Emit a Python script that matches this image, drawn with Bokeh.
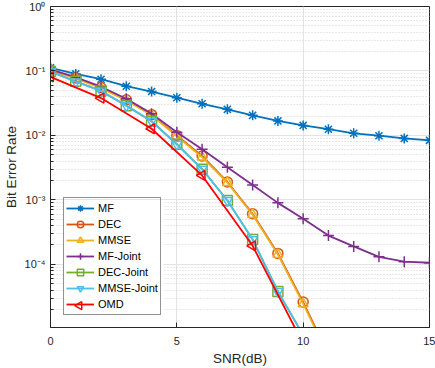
import math
from bokeh.plotting import figure
from bokeh.models import FixedTicker, Legend, LegendItem, Range1d
from bokeh.embed import file_html
from bokeh.resources import INLINE

# ---- data ----
snr = list(range(0, 16))
snr_omd = [0, 2, 4, 6, 8, 10]

ber_mf = [0.112, 0.090, 0.0745, 0.058, 0.048, 0.0385, 0.031, 0.0254,
          0.0205, 0.0168, 0.0143, 0.0125, 0.0108, 0.0099, 0.0090, 0.0084]
ber_dec = [0.104, 0.078, 0.0553, 0.0358, 0.021, 0.0100, 0.0048, 0.0019,
           0.00061, 0.000148, 2.6e-5, 4.0e-6]
ber_mmse = [0.102, 0.077, 0.054, 0.035, 0.0205, 0.0097, 0.0046, 0.00185,
            0.00059, 0.000142, 2.45e-5, 3.8e-6]
ber_mf_joint = [0.105, 0.080, 0.057, 0.037, 0.0218, 0.0112, 0.0061, 0.0032,
                0.0017, 0.0009, 0.00051, 0.00028, 0.00019, 0.000131, 0.000110, 0.000106]
ber_dec_joint = [0.098, 0.069, 0.049, 0.029, 0.0166, 0.0073, 0.0030, 0.00098,
                 0.000243, 3.8e-5, 8.0e-6]
ber_mmse_joint = [0.098, 0.068, 0.049, 0.029, 0.0166, 0.0073, 0.0030, 0.00098,
                  0.000243, 3.8e-5, 8.0e-6]
ber_omd = [0.081, 0.038, 0.0127, 0.0024, 0.000194, 5.9e-6]

x_ticks = [0, 5, 10, 15]
y_ticks = [1e-4, 1e-3, 1e-2, 1e-1, 1e0]
y_tick_labels = ["10\u207b\u2074", "10\u207b\u00b3", "10\u207b\u00b2", "10\u207b\u00b9", "10\u2070"]
y_minor = [m * 10.0 ** e for e in range(-5, 0) for m in range(2, 10)]

FONT = "Liberation Sans"
AX = "#262626"

W, H = 435, 368
BL, BR, BT, BB = 49, 6, 6, 38
X0, X1 = 0, 15
Y0, Y1 = 1.05e-5, 1.0

p = figure(width=W, height=H, output_backend="svg", toolbar_location=None,
           y_axis_type="log", x_range=Range1d(X0, X1), y_range=Range1d(Y0, Y1),
           min_border_left=BL, min_border_right=BR, min_border_top=BT, min_border_bottom=BB)
p.outline_line_color = AX
p.outline_line_width = 1
p.background_fill_color = "white"
p.border_fill_color = "white"

xt = FixedTicker(ticks=x_ticks, minor_ticks=[])
yt = FixedTicker(ticks=y_ticks, minor_ticks=y_minor)
overrides = {t: l for t, l in zip(y_ticks, y_tick_labels)}

xa = p.xaxis[0]
xa.ticker = xt
xa.axis_label = "SNR(dB)"
ya = p.yaxis[0]
ya.ticker = yt
ya.major_label_overrides = overrides
ya.axis_label = "Bit Error Rate"

for ax in (xa, ya):
    ax.axis_line_color = AX
    ax.major_tick_line_color = AX
    ax.minor_tick_line_color = AX
    ax.major_tick_in = 5
    ax.major_tick_out = 0
    ax.minor_tick_in = 3
    ax.minor_tick_out = 0
    ax.major_label_text_font = FONT
    ax.major_label_text_font_size = "11px"
    ax.major_label_text_color = AX
    ax.axis_label_text_font = FONT
    ax.axis_label_text_font_size = "13.5px"
    ax.axis_label_text_font_style = "normal"
    ax.axis_label_text_color = AX
xa.major_label_standoff = 9
xa.axis_label_standoff = 3
ya.major_label_standoff = 5
ya.axis_label_standoff = 3

p.xgrid.ticker = xt
p.ygrid.ticker = yt
p.xgrid.grid_line_color = "#e3e3e3"
p.ygrid.grid_line_color = "#e3e3e3"
p.ygrid.minor_grid_line_color = "#d2d2d2"
p.ygrid.minor_grid_line_dash = "1 2"

# legend geometry (pixels, relative to the plot frame's bottom-left corner)
LEG_X, LEG_Y, PAD, GW, ROW, LEG_W = 13, 12, 2, 28, 16, 100
N_ITEMS = 7
FW = W - BL - BR
FH = H - BT - BB
ly0, ly1 = math.log10(Y0), math.log10(Y1)


def px_to_x(px):
    return X0 + px / FW * (X1 - X0)


def px_to_y(py):
    return 10 ** (ly0 + py / FH * (ly1 - ly0))


# white backing for the legend box (drawn as a glyph so the OMD key can sit above it)
p.quad(left=[px_to_x(LEG_X)], right=[px_to_x(LEG_X + LEG_W)],
       bottom=[px_to_y(LEG_Y)], top=[px_to_y(LEG_Y + N_ITEMS * ROW + 2 * PAD)],
       fill_color="white", line_alpha=0)

series = [
    ("MF", snr, ber_mf, "#0072BD", "asterisk", 0),
    ("DEC", snr, ber_dec, "#D95319", "circle", 0),
    ("MMSE", snr, ber_mmse, "#EDB120", "triangle", 0),
    ("MF-Joint", snr, ber_mf_joint, "#7E2F8E", "cross", 0),
    ("DEC-Joint", snr, ber_dec_joint, "#77AC30", "square", 0),
    ("MMSE-Joint", snr, ber_mmse_joint, "#4DBEEE", "inverted_triangle", 0),
    ("OMD", snr_omd, ber_omd, "#FF0000", "triangle", math.pi / 2),
]

items = []
for name, xs, ys, color, marker, ang in series:
    xs = xs[:len(ys)]
    lr = p.line(xs, ys, line_color=color, line_width=1.8)
    sr = p.scatter(xs, ys, marker=marker, size=10 if marker != "cross" else 11,
                   angle=ang, line_color=color, line_width=1.5, fill_alpha=0)
    rends = [lr] if ang else [lr, sr]
    items.append(LegendItem(label=name, renderers=rends))

# Legend glyphs ignore marker angle, so the left-pointing OMD key is drawn
# at the legend's own key position (last row, bottom of the box).
p.scatter([px_to_x(LEG_X + PAD + GW / 2)], [px_to_y(LEG_Y + PAD + ROW / 2)],
          marker="triangle", angle=math.pi / 2, size=8,
          line_color="#FF0000", line_width=1.5, fill_alpha=0)

legend = Legend(items=items, location=(LEG_X, LEG_Y))
legend.border_line_color = AX
legend.border_line_width = 1
legend.background_fill_alpha = 0
legend.label_text_font = FONT
legend.label_text_font_size = "11px"
legend.label_text_color = "#000000"
legend.glyph_width = GW
legend.glyph_height = ROW
legend.label_height = ROW
legend.label_standoff = 4
legend.spacing = 0
legend.padding = PAD
legend.margin = 0
p.add_layout(legend)

open("out.html", "w").write(file_html(p, INLINE))
